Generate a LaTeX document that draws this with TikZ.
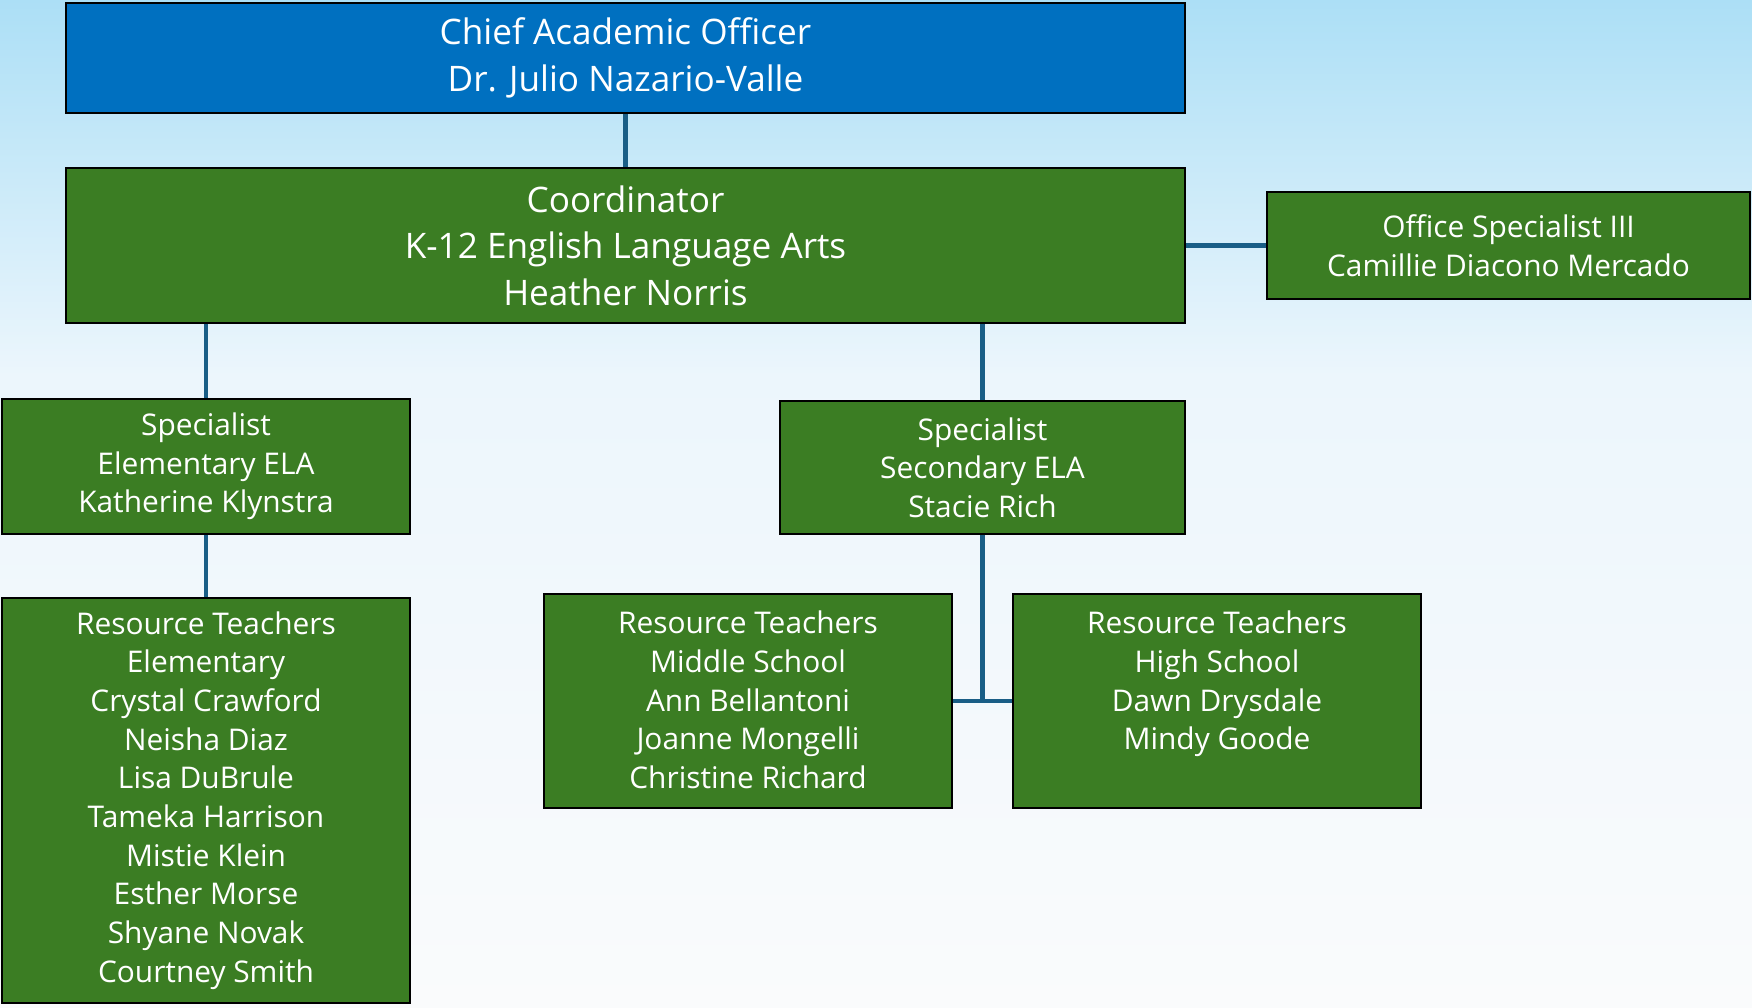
\documentclass[tikz,border=0pt]{standalone}
\usepackage{fontspec}
\setmainfont{Open Sans}
\usepackage{tikz}
\usetikzlibrary{positioning, calc}
\definecolor{chiefblue}{RGB}{0,112,192}
\definecolor{staffgreen}{RGB}{59,125,35}
\definecolor{linkblue}{RGB}{25,94,134}
\definecolor{skytop}{RGB}{172,223,246}
\definecolor{skymid}{RGB}{236,246,252}
\definecolor{skybot}{RGB}{250,251,252}
\tikzset{
  unit/.style={draw=black, line width=1.2pt, text=white, align=center, inner sep=0pt},
  big/.style={unit, font=\fontsize{20}{26.4}\selectfont},
  small/.style={unit, fill=staffgreen, font=\fontsize{17}{22}\selectfont},
  link/.style={draw=linkblue, line width=2.4pt},
}

\begin{document}
\begin{tikzpicture}
    \shade[top color=skytop, bottom color=skymid] (0,0) rectangle (35.04,-7.5);
    \shade[top color=skymid, bottom color=skybot] (0,-7.5) rectangle (35.04,-20.14);
    \useasboundingbox (0,0) rectangle (35.04,-20.14);
    % top of the chart
    \node[big, fill=chiefblue, minimum width=22.38cm, minimum height=2.2cm] (chief) at (12.51,-1.16)
      {Chief Academic Officer\\Dr. Julio Nazario-Valle};
    \node[big, fill=staffgreen, minimum width=22.38cm, minimum height=3.1cm] (coord) at (12.51,-4.91)
      {Coordinator\\K-12 English Language Arts\\Heather Norris};
    \node[small, minimum width=9.66cm, minimum height=2.14cm] (office) at (30.17,-4.91)
      {Office Specialist III\\Camillie Diacono Mercado};
    % specialists
    \node[small, minimum width=8.16cm, minimum height=2.7cm] (specE) at (4.12,-9.33)
      {Specialist\\Elementary ELA\\Katherine Klynstra};
    \node[small, minimum width=8.1cm, minimum height=2.66cm] (specS) at (19.65,-9.35)
      {Specialist\\Secondary ELA\\Stacie Rich};
    % resource teachers
    \node[small, minimum width=8.16cm, minimum height=8.1cm] (rtE) at (4.12,-16.01)
      {Resource Teachers\\Elementary\\Crystal Crawford\\Neisha Diaz\\Lisa DuBrule\\Tameka Harrison\\Mistie Klein\\Esther Morse\\Shyane Novak\\Courtney Smith};
    \node[small, minimum width=8.16cm, minimum height=4.28cm] (rtM) at (14.96,-14.02)
      {\parbox[c][3.6cm][t]{7.8cm}{\centering Resource Teachers\\Middle School\\Ann Bellantoni\\Joanne Mongelli\\Christine Richard}};
    \node[small, minimum width=8.16cm, minimum height=4.28cm] (rtH) at (24.34,-14.02)
      {\parbox[c][3.6cm][t]{7.8cm}{\centering Resource Teachers\\High School\\Dawn Drysdale\\Mindy Goode}};
    % connectors
    \draw[link] (chief) -- (coord);
    \draw[link] (coord.east) -- (office.west);
    \draw[link] (specE.north |- coord.south) -- (specE.north);
    \draw[link] (specS.north |- coord.south) -- (specS.north);
    \draw[link] (specE) -- (rtE);
    \draw[link] (specS.south) -- (specS.south |- rtM.east);
    \draw[link] (rtM.east) -- (rtH.west);
  \end{tikzpicture}
\end{document}
